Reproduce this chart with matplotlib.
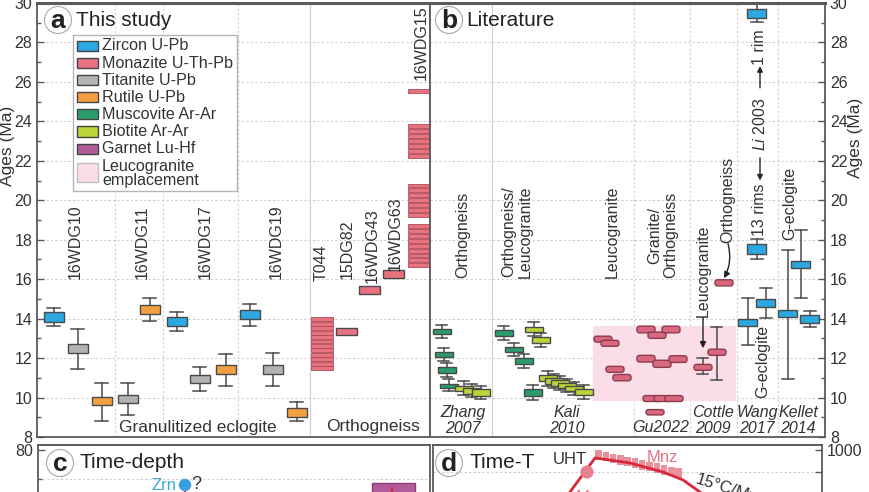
import matplotlib
matplotlib.use('Agg')
import matplotlib.pyplot as plt
from matplotlib.patches import Rectangle, FancyBboxPatch, Ellipse

plt.rcParams['font.family'] = ['Liberation Sans', 'DejaVu Sans']
plt.rcParams['mathtext.fontset'] = 'custom'
plt.rcParams['mathtext.rm'] = 'Liberation Sans'
plt.rcParams['mathtext.it'] = 'Liberation Sans:italic'

# ---------------- colours / legend ----------------
legend_labels = ['Zircon U-Pb', 'Monazite U-Th-Pb', 'Titanite U-Pb', 'Rutile U-Pb',
                 'Muscovite Ar-Ar', 'Biotite Ar-Ar', 'Garnet Lu-Hf', 'Leucogranite\nemplacement']
legend_colors = ['#2ba8df', '#e8727f', '#b3b3b3', '#f3a043', '#2a9d6c', '#bdd33a', '#b25c9b', '#fbdde8']
COL = dict(Zrn='#2ba8df', Mnz='#e8727f', Ttn='#b3b3b3', Rt='#f3a043', Ms='#2a9d6c', Bt='#bdd33a',
           Grt='#b25c9b', Leu='#fbdde8', MnzL='#d9687e')

# ---------------- panel a data (Ma) ----------------
a_sample_names = ['16WDG10', '16WDG11', '16WDG17', '16WDG19']
a_mineral = ['Zrn', 'Ttn', 'Rt', 'Ttn', 'Rt', 'Zrn', 'Ttn', 'Rt', 'Zrn', 'Ttn', 'Rt']
a_box_lo = [13.85, 12.25, 9.60, 9.70, 14.25, 13.62, 10.72, 11.17, 13.98, 11.17, 9.02]
a_box_hi = [14.35, 12.70, 10.02, 10.15, 14.70, 14.08, 11.12, 11.63, 14.44, 11.63, 9.45]
a_err_lo = [13.62, 11.45, 8.80, 9.10, 13.88, 13.37, 10.32, 10.60, 13.62, 10.56, 8.80]
a_err_hi = [14.56, 13.47, 10.72, 10.72, 15.07, 14.36, 11.54, 12.22, 14.76, 12.26, 9.76]

ortho_names = ['T044', '15DG82', '16WDG43', '16WDG63', '16WDG15']
t044_ages = [13.97, 13.74, 13.52, 13.29, 13.07, 12.84, 12.62, 12.39, 12.17, 11.94, 11.72, 11.49]
dg82_box = (13.15, 13.55)
wdg43_box = (15.26, 15.66)
wdg63_box = (16.07, 16.48)
wdg15_ages = [25.55,
              23.75, 23.50, 23.25, 23.00, 22.75, 22.50, 22.25,
              20.75, 20.50, 20.25, 20.00, 19.75, 19.50, 19.25,
              18.70, 18.45, 18.20, 17.95, 17.70, 17.45, 17.20, 16.95, 16.70]

# ---------------- panel b data (Ma) ----------------
b_studies = ['Zhang\n2007', 'Kali\n2010', 'Gu2022', 'Cottle\n2009', 'Wang\n2017', 'Kellet\n2014']
b_rock_labels = ['Orthogneiss', 'Orthogneiss/\nLeucogranite', 'Leucogranite', 'Granite/\nOrthogneiss']
# Ar-Ar boxes (Zhang 2007 & Kali 2010)
ar_mineral = ['Ms', 'Ms', 'Ms', 'Ms', 'Bt', 'Bt', 'Bt',
              'Ms', 'Ms', 'Ms', 'Ms', 'Bt', 'Bt', 'Bt', 'Bt', 'Bt', 'Bt', 'Bt', 'Bt']
ar_box_lo = [13.22, 12.04, 11.22, 10.46, 10.31, 10.20, 10.10,
             13.11, 12.30, 11.68, 10.10, 13.32, 12.76, 10.82, 10.70, 10.60, 10.47, 10.33, 10.15]
ar_box_hi = [13.47, 12.30, 11.53, 10.71, 10.60, 10.50, 10.41,
             13.42, 12.55, 11.99, 10.41, 13.57, 13.06, 11.12, 10.98, 10.88, 10.75, 10.60, 10.41]
ar_err_lo = [13.00, 11.84, 11.02, 10.31, 10.15, 10.05, 9.95,
             12.90, 12.10, 11.50, 9.90, 13.11, 12.55, 10.60, 10.50, 10.40, 10.28, 10.15, 9.95]
ar_err_hi = [13.67, 12.50, 11.73, 10.92, 10.82, 10.70, 10.60,
             13.63, 12.75, 12.20, 10.62, 13.83, 13.27, 11.33, 11.20, 11.10, 10.95, 10.80, 10.62]
# monazite boxes of the literature (Leucogranite column, Gu 2022, Cottle 2009)
mz_box_lo = [12.81, 12.60, 11.28, 10.85,
             13.28, 13.00, 13.28, 11.80, 11.53, 11.78, 9.80, 9.80, 9.80, 9.12,
             11.38, 12.14, 15.66]
mz_box_hi = [13.11, 12.90, 11.58, 11.17,
             13.62, 13.32, 13.62, 12.14, 11.89, 12.12, 10.10, 10.10, 10.10, 9.39,
             11.68, 12.45, 15.97]
mz_err_lo = [None] * 14 + [11.17, 10.87, None]
mz_err_hi = [None] * 14 + [11.99, 13.57, None]
leuco_field = (9.80, 13.65)
# zircon (Wang 2017, Kellet 2014)
zr_box_lo = [13.62, 14.60, 17.30, 29.23, 14.08, 16.58, 13.78]
zr_box_hi = [13.98, 15.00, 17.80, 29.70, 14.44, 16.94, 14.18]
zr_err_lo = [12.65, 14.03, 17.04, 29.03, 10.92, 15.05, 13.57]
zr_err_hi = [15.05, 15.56, 18.06, 29.95, 17.50, 18.47, 14.39]

# ---------------- panel c / d data ----------------
zrn_point = (23.0, 67.9)            # age (Ma), depth (km)
grt_field = (11.55, 8.91, 68.6)      # age range, top depth
path_age = [24.17, 23.55, 22.00, 19.85, 17.81, 16.58, 15.53, 14.30]
path_T = [727, 809, 964, 941, 900, 864, 809, 750]
mnz_age = [21.79, 21.34, 20.89, 20.44, 19.99, 19.54, 19.09, 18.64, 18.19, 17.74, 17.29, 16.84]
mnz_T = [977, 970, 962, 955, 947, 940, 932, 925, 917, 910, 902, 895]
uht_point = (22.5, 900)

# ---------------- layout helpers ----------------
W, H = 870, 492
fig = plt.figure(figsize=(8.7, 4.92), dpi=100)
fig.patch.set_facecolor('white')


def fx(px):
    return px / W


def fy(py):
    return 1 - py / H


def axes_px(l, t, r, b):
    return fig.add_axes([fx(l), fy(b), fx(r) - fx(l), fy(t) - fy(b)])


EDGE = '#4a4a4a'
SPINE = '#5a5a5a'
TXT = '#333333'
GRID = '#cfcfcf'
FS = 11.5


def style(ax, lw_top=1.4):
    for s in ax.spines.values():
        s.set_color(SPINE)
        s.set_linewidth(1.3)
    ax.spines['top'].set_linewidth(lw_top)
    ax.tick_params(axis='both', which='both', direction='in', colors=SPINE, labelcolor=TXT,
                   labelsize=FS)
    ax.tick_params(which='major', length=5, width=1)
    ax.tick_params(which='minor', length=3, width=1)
    ax.set_xticks([])


def draw_box(ax, x, lo, hi, elo, ehi, fc, w=20, capw=13, rounded=False, z=3):
    if elo is not None:
        ax.plot([x, x], [elo, ehi], color=EDGE, lw=1.1, zorder=z - 1)
        ax.plot([x - capw / 2, x + capw / 2], [elo, elo], color=EDGE, lw=1.1, zorder=z - 1)
        ax.plot([x - capw / 2, x + capw / 2], [ehi, ehi], color=EDGE, lw=1.1, zorder=z - 1)
    if rounded:
        p = FancyBboxPatch((x - w / 2, lo), w, hi - lo,
                           boxstyle='round,pad=0,rounding_size=2.5',
                           mutation_aspect=22 / 434, fc=fc, ec='#8b3b4b', lw=1, zorder=z)
    else:
        p = Rectangle((x - w / 2, lo), w, hi - lo, fc=fc, ec=EDGE, lw=1, zorder=z)
    ax.add_patch(p)


def hgrid(ax, x0, x1):
    for v in range(10, 30, 2):
        ax.plot([x0, x1], [v, v], color=GRID, lw=0.8, ls=(0, (2, 2)), zorder=0)


def vline(ax, x, solid=False):
    ax.axvline(x, color=GRID, lw=0.8, ls='-' if solid else (0, (2, 2)), zorder=0)


def circ_label(px, py, letter, title, tx):
    fig.patches.append(Ellipse((fx(px), fy(py)), 27 / W, 27 / H, transform=fig.transFigure,
                               fill=False, ec='#a8a8a8', lw=0.8, zorder=10))
    fig.text(fx(px), fy(py) - 0.003, letter, ha='center', va='center', fontsize=19,
             fontweight='bold', color='#222222', zorder=11)
    fig.text(fx(tx), fy(py), title, ha='left', va='center', fontsize=15, color='#222222', zorder=11)


# ======================= panel a =======================
ax_a = axes_px(37, 3, 430, 437)
ax_a.set_xlim(37, 430)
ax_a.set_ylim(8, 30)
style(ax_a, lw_top=2.2)
ax_a.set_yticks(range(8, 31, 2))
ax_a.set_yticks(range(9, 30, 2), minor=True)
hgrid(ax_a, 37, 430)
for xv in [115, 163, 238]:
    vline(ax_a, xv)
vline(ax_a, 310, solid=True)

a_pos = [54, 78, 102, 128, 150, 177, 200, 226, 250, 273, 297]
for i in range(len(a_mineral)):
    draw_box(ax_a, a_pos[i], a_box_lo[i], a_box_hi[i], a_err_lo[i], a_err_hi[i], COL[a_mineral[i]])

# monazite stacks
for v in t044_ages:
    ax_a.add_patch(Rectangle((311, v - 0.1), 22, 0.2, fc=COL['Mnz'], ec='#b04a5a', lw=0.6, zorder=3))
for (lo, hi), xc in zip([dg82_box, wdg43_box, wdg63_box], [347, 370, 394]):
    ax_a.add_patch(Rectangle((xc - 10.5, lo), 21, hi - lo, fc=COL['Mnz'], ec=EDGE, lw=1, zorder=3))
for v in wdg15_ages:
    ax_a.add_patch(Rectangle((408, v - 0.1), 21, 0.2, fc=COL['Mnz'], ec='#b04a5a', lw=0.6, zorder=3))

for name, xc in zip(a_sample_names, [75, 142, 205, 276]):
    ax_a.text(xc, 16.0, name, rotation=90, ha='center', va='bottom', fontsize=FS, color=TXT)
for name, xc, yb in zip(ortho_names, [321, 347, 372, 395, 421], [15.9, 16.0, 15.8, 16.4, 26.1]):
    ax_a.text(xc, yb, name, rotation=90, ha='center', va='bottom', fontsize=FS, color=TXT)
ax_a.text(198, 8.5, 'Granulitized eclogite', ha='center', va='center', fontsize=12.5, color=TXT)
ax_a.text(373, 8.55, 'Orthogneiss', ha='center', va='center', fontsize=12.5, color=TXT)

# legend (manual)
fig.patches.append(Rectangle((fx(73), fy(191)), (237 - 73) / W, (191 - 35) / H,
                             transform=fig.transFigure, fill=True, fc='white', ec='#b5b5b5',
                             lw=1, zorder=5))
for i, (lab, c) in enumerate(zip(legend_labels, legend_colors)):
    if i < 7:
        yc = 46 + 17.1 * i
        fig.patches.append(Rectangle((fx(77), fy(yc + 5)), 21 / W, 10 / H, transform=fig.transFigure,
                                     fc=c, ec='#444444', lw=1, zorder=6))
        fig.text(fx(102), fy(yc), lab, ha='left', va='center', fontsize=11.6, color=TXT, zorder=6)
    else:
        fig.patches.append(Rectangle((fx(77), fy(182)), 21 / W, 19 / H, transform=fig.transFigure,
                                     fc=c, ec='#c0c0c0', lw=1, zorder=6))
        fig.text(fx(102), fy(173.5), lab, ha='left', va='center', fontsize=11.6, color=TXT,
                 linespacing=1.0, zorder=6)

# ======================= panel b =======================
ax_b = axes_px(430, 3, 825, 437)
ax_b.set_xlim(430, 825)
ax_b.set_ylim(8, 30)
style(ax_b, lw_top=2.2)
ax_b.yaxis.tick_right()
ax_b.set_yticks(range(8, 31, 2))
ax_b.set_yticks(range(9, 30, 2), minor=True)
hgrid(ax_b, 430, 825)
vline(ax_b, 492, solid=True)
for xv in [634, 690, 737, 778]:
    vline(ax_b, xv)
ax_b.add_patch(Rectangle((593, leuco_field[0]), 736 - 593, leuco_field[1] - leuco_field[0],
                         fc=COL['Leu'], ec='none', zorder=1))

ar_pos = [442, 444, 447, 449, 464, 472, 481,
          504, 514, 524, 533, 534, 541, 548, 554, 560, 567, 574, 584]
for i in range(len(ar_mineral)):
    draw_box(ax_b, ar_pos[i], ar_box_lo[i], ar_box_hi[i], ar_err_lo[i], ar_err_hi[i],
             COL[ar_mineral[i]], w=18, capw=11)
mz_pos = [603, 610, 615, 622,
          646, 657, 671, 646, 662, 678, 652, 663, 674, 655,
          703, 717, 724]
for i in range(len(mz_pos)):
    draw_box(ax_b, mz_pos[i], mz_box_lo[i], mz_box_hi[i], mz_err_lo[i], mz_err_hi[i],
             COL['MnzL'], w=18, capw=11, rounded=True)
zr_pos = [748, 766, 757, 757, 788, 801, 810]
for i in range(len(zr_pos)):
    draw_box(ax_b, zr_pos[i], zr_box_lo[i], zr_box_hi[i], zr_err_lo[i], zr_err_hi[i],
             COL['Zrn'], w=19, capw=12)

for lab, xc in zip(b_rock_labels, [463, 517, 612, 663]):
    ax_b.text(xc, 16.05, lab, rotation=90, ha='center', va='bottom', fontsize=FS, color=TXT,
              linespacing=1.05)
for lab, xc in zip(b_studies, [463, 567, 661, 713, 757, 798]):
    if '\n' in lab:
        ax_b.text(xc, 8.84, lab, ha='center', va='center', fontsize=FS, style='italic',
                  color=TXT, linespacing=1.05)
    else:
        ax_b.text(xc, 8.5, lab, ha='center', va='center', fontsize=FS, style='italic', color=TXT)

# Cottle annotations
ax_b.text(703, 14.1, 'Leucogranite', rotation=90, ha='center', va='bottom', fontsize=FS, color=TXT)
ax_b.annotate('', xy=(703, 12.5), xytext=(703, 14.05),
              arrowprops=dict(arrowstyle='-|>', color='#222222', lw=1, mutation_scale=9,
                              shrinkA=0, shrinkB=0))
ax_b.text(728, 17.85, 'Orthogneiss', rotation=90, ha='center', va='bottom', fontsize=FS, color=TXT)
ax_b.annotate('', xy=(724, 16.05), xytext=(728, 17.8),
              arrowprops=dict(arrowstyle='-|>', color='#222222', lw=1, mutation_scale=9,
                              shrinkA=0, shrinkB=0, connectionstyle='arc3,rad=-0.2'))
# Wang / Li 2003
ax_b.text(760, 19.54, '13 rims', rotation=90, ha='center', va='center', fontsize=FS, color=TXT)
ax_b.annotate('', xy=(760, 21.0), xytext=(760, 22.15),
              arrowprops=dict(arrowstyle='-|>', color='#222222', lw=1, mutation_scale=8,
                              shrinkA=0, shrinkB=0))
ax_b.text(760, 23.88, r'$\mathit{Li}$ 2003', rotation=90, ha='center', va='center',
          fontsize=FS, color=TXT)
ax_b.annotate('', xy=(760, 26.8), xytext=(760, 25.7),
              arrowprops=dict(arrowstyle='-|>', color='#222222', lw=1, mutation_scale=8,
                              shrinkA=0, shrinkB=0))
ax_b.text(760, 27.76, '1 rim', rotation=90, ha='center', va='center', fontsize=FS, color=TXT)
ax_b.text(763, 9.98, 'G-eclogite', rotation=90, ha='center', va='bottom', fontsize=FS, color=TXT)
ax_b.text(790, 18.0, 'G-eclogite', rotation=90, ha='center', va='bottom', fontsize=FS, color=TXT)

circ_label(58, 20, 'a', 'This study', 76)
circ_label(449, 20, 'b', 'Literature', 466)

fig.text(fx(7.5), fy(146), 'Ages (Ma)', rotation=90, ha='center', va='center', fontsize=12.5, color=TXT)
fig.text(fx(856), fy(138), 'Ages (Ma)', rotation=90, ha='center', va='center', fontsize=12.5, color=TXT)

# ======================= panel c =======================
C_TOP = 81.7
ax_c = axes_px(38, 445, 430, 445 + C_TOP * 2.9)
ax_c.set_xlim(32, 8)
ax_c.set_ylim(0, C_TOP)
style(ax_c)
ax_c.set_yticks([0, 20, 40, 60, 80])
ax_c.set_yticks([10, 30, 50, 70], minor=True)
for v in [70, 50, 30, 10]:
    ax_c.axhline(v, color=GRID, lw=0.8, ls=(0, (2, 2)), zorder=0)
ax_c.add_patch(Rectangle((grt_field[1], 0), grt_field[0] - grt_field[1], grt_field[2],
                         fc=COL['Grt'], ec='#8a3a7a', lw=1, zorder=2))
ax_c.plot([10.3, 10.3], [60, 67.0], color='#d8283c', lw=1.5, zorder=3)
ax_c.plot([zrn_point[0], zrn_point[0]], [60, zrn_point[1]], color='#d8283c', lw=1.5, zorder=3)
ax_c.scatter([zrn_point[0]], [zrn_point[1]], s=80, color='#3a9fdc', zorder=4, edgecolor='none')
ax_c.text(zrn_point[0] + 0.5, zrn_point[1], 'Zrn', ha='right', va='center', fontsize=12,
          color='#3aa8d8')
ax_c.text(zrn_point[0] - 0.4, zrn_point[1] + 0.3, '?', ha='left', va='center', fontsize=13,
          color=TXT)
circ_label(60, 463, 'c', 'Time-depth', 80)

# ======================= panel d =======================
D_TOP = 1022.7
ax_d = axes_px(433, 445, 822, 445 + (D_TOP - 200) * 0.22)
ax_d.set_xlim(32, 8)
ax_d.set_ylim(200, D_TOP)
style(ax_d)
ax_d.yaxis.tick_right()
ax_d.set_yticks([500, 1000])
ax_d.set_yticks([300, 400, 600, 700, 800, 900], minor=True)
ax_d.tick_params(which='minor', length=5)
for v in [900, 700, 500, 300]:
    ax_d.axhline(v, color=GRID, lw=0.8, ls=(0, (2, 2)), zorder=0)
for a, t in zip(mnz_age, mnz_T):
    ax_d.add_patch(Rectangle((a - 0.2, t - 22), 0.4, 44, fc='#e8909c', ec='none', zorder=2))
ax_d.plot(path_age, path_T, color='#d8283c', lw=2, zorder=3)
ax_d.scatter([uht_point[0]], [uht_point[1]], s=90, color='#e8808e', zorder=4, edgecolor='none')
ax_d.text(23.55, 955, 'UHT', ha='center', va='center', fontsize=12, color=TXT)
ax_d.text(17.87, 968, 'Mnz', ha='center', va='center', fontsize=12, color='#e07585')
ax_d.text(23.2, 782, 'Mnz', ha='left', va='center', fontsize=12, color='#e07585')
ax_d.text(15.9, 822, '15°C/Myr', ha='left', va='center', fontsize=12, color=TXT, rotation=-18)
circ_label(449, 463, 'd', 'Time-T', 469)

fig.savefig('out.png', dpi=100)
